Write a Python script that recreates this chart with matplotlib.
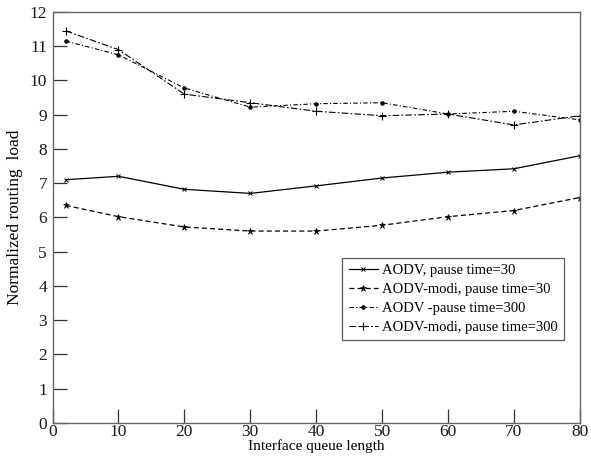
import matplotlib
matplotlib.use("Agg")
import matplotlib.pyplot as plt

# data start here
queue_len = [2, 10, 20, 30, 40, 50, 60, 70, 80]

aodv_30 = [7.1, 7.2, 6.82, 6.7, 6.92, 7.15, 7.32, 7.42, 7.8]
aodv_modi_30 = [6.35, 6.02, 5.72, 5.6, 5.6, 5.77, 6.02, 6.2, 6.58]
aodv_300 = [11.15, 10.75, 9.78, 9.22, 9.32, 9.35, 9.02, 9.1, 8.85]
aodv_modi_300 = [11.45, 10.9, 9.6, 9.35, 9.1, 8.97, 9.02, 8.7, 8.97]

labels = ["AODV, pause time=30", "AODV-modi, pause time=30",
          "AODV -pause time=300", "AODV-modi, pause time=300"]
x_ticks = [0, 10, 20, 30, 40, 50, 60, 70, 80]
y_ticks = list(range(0, 13))
# data end here

plt.rcParams['font.family'] = ['Liberation Serif', 'DejaVu Serif']

fig = plt.figure(figsize=(5.91, 4.62), dpi=100)
ax = fig.add_axes([0.089, 0.085, 0.892, 0.889])

ax.plot(queue_len, aodv_30, color='k', lw=0.9, ls='-',
        marker='x', ms=3.2, mew=0.7, label=labels[0])
ax.plot(queue_len, aodv_modi_30, color='k', lw=0.9, ls=(0, (4, 2.5)),
        marker='*', ms=4.5, mew=0.4, label=labels[1])
ax.plot(queue_len, aodv_300, color='k', lw=0.8, ls=(0, (4, 2, 1, 2)),
        marker='.', ms=4.5, label=labels[2])
ax.plot(queue_len, aodv_modi_300, color='k', lw=0.8, ls=(0, (6, 2, 1.5, 2)),
        marker='+', ms=5.5, mew=0.8, label=labels[3])

ax.set_xlim(0, 80)
ax.set_ylim(0, 12)
ax.set_xticks(x_ticks)
ax.set_yticks(y_ticks)
ax.tick_params(direction='in', length=10, width=0.9, labelsize=12.5,
               top=False, right=False, colors='#333333', labelcolor='#1a1a1a')
ax.tick_params(axis='x', pad=1)
ax.tick_params(axis='y', pad=4)
for s in ax.spines.values():
    s.set_color('#666666')
    s.set_linewidth(1.0)

ax.set_xlabel('Interface queue length', fontsize=11, labelpad=-1)
ax.set_ylabel('Normalized routing  load', fontsize=12.5, labelpad=5)

leg = ax.legend(loc='upper left', bbox_to_anchor=(0.549, 0.402),
                fontsize=10.5, frameon=True, fancybox=False,
                edgecolor='#333333', handlelength=2.0, handletextpad=0.3,
                borderpad=0.45, labelspacing=0.38, borderaxespad=0)
leg.get_frame().set_linewidth(0.9)

fig.savefig('out.png', dpi=100)
